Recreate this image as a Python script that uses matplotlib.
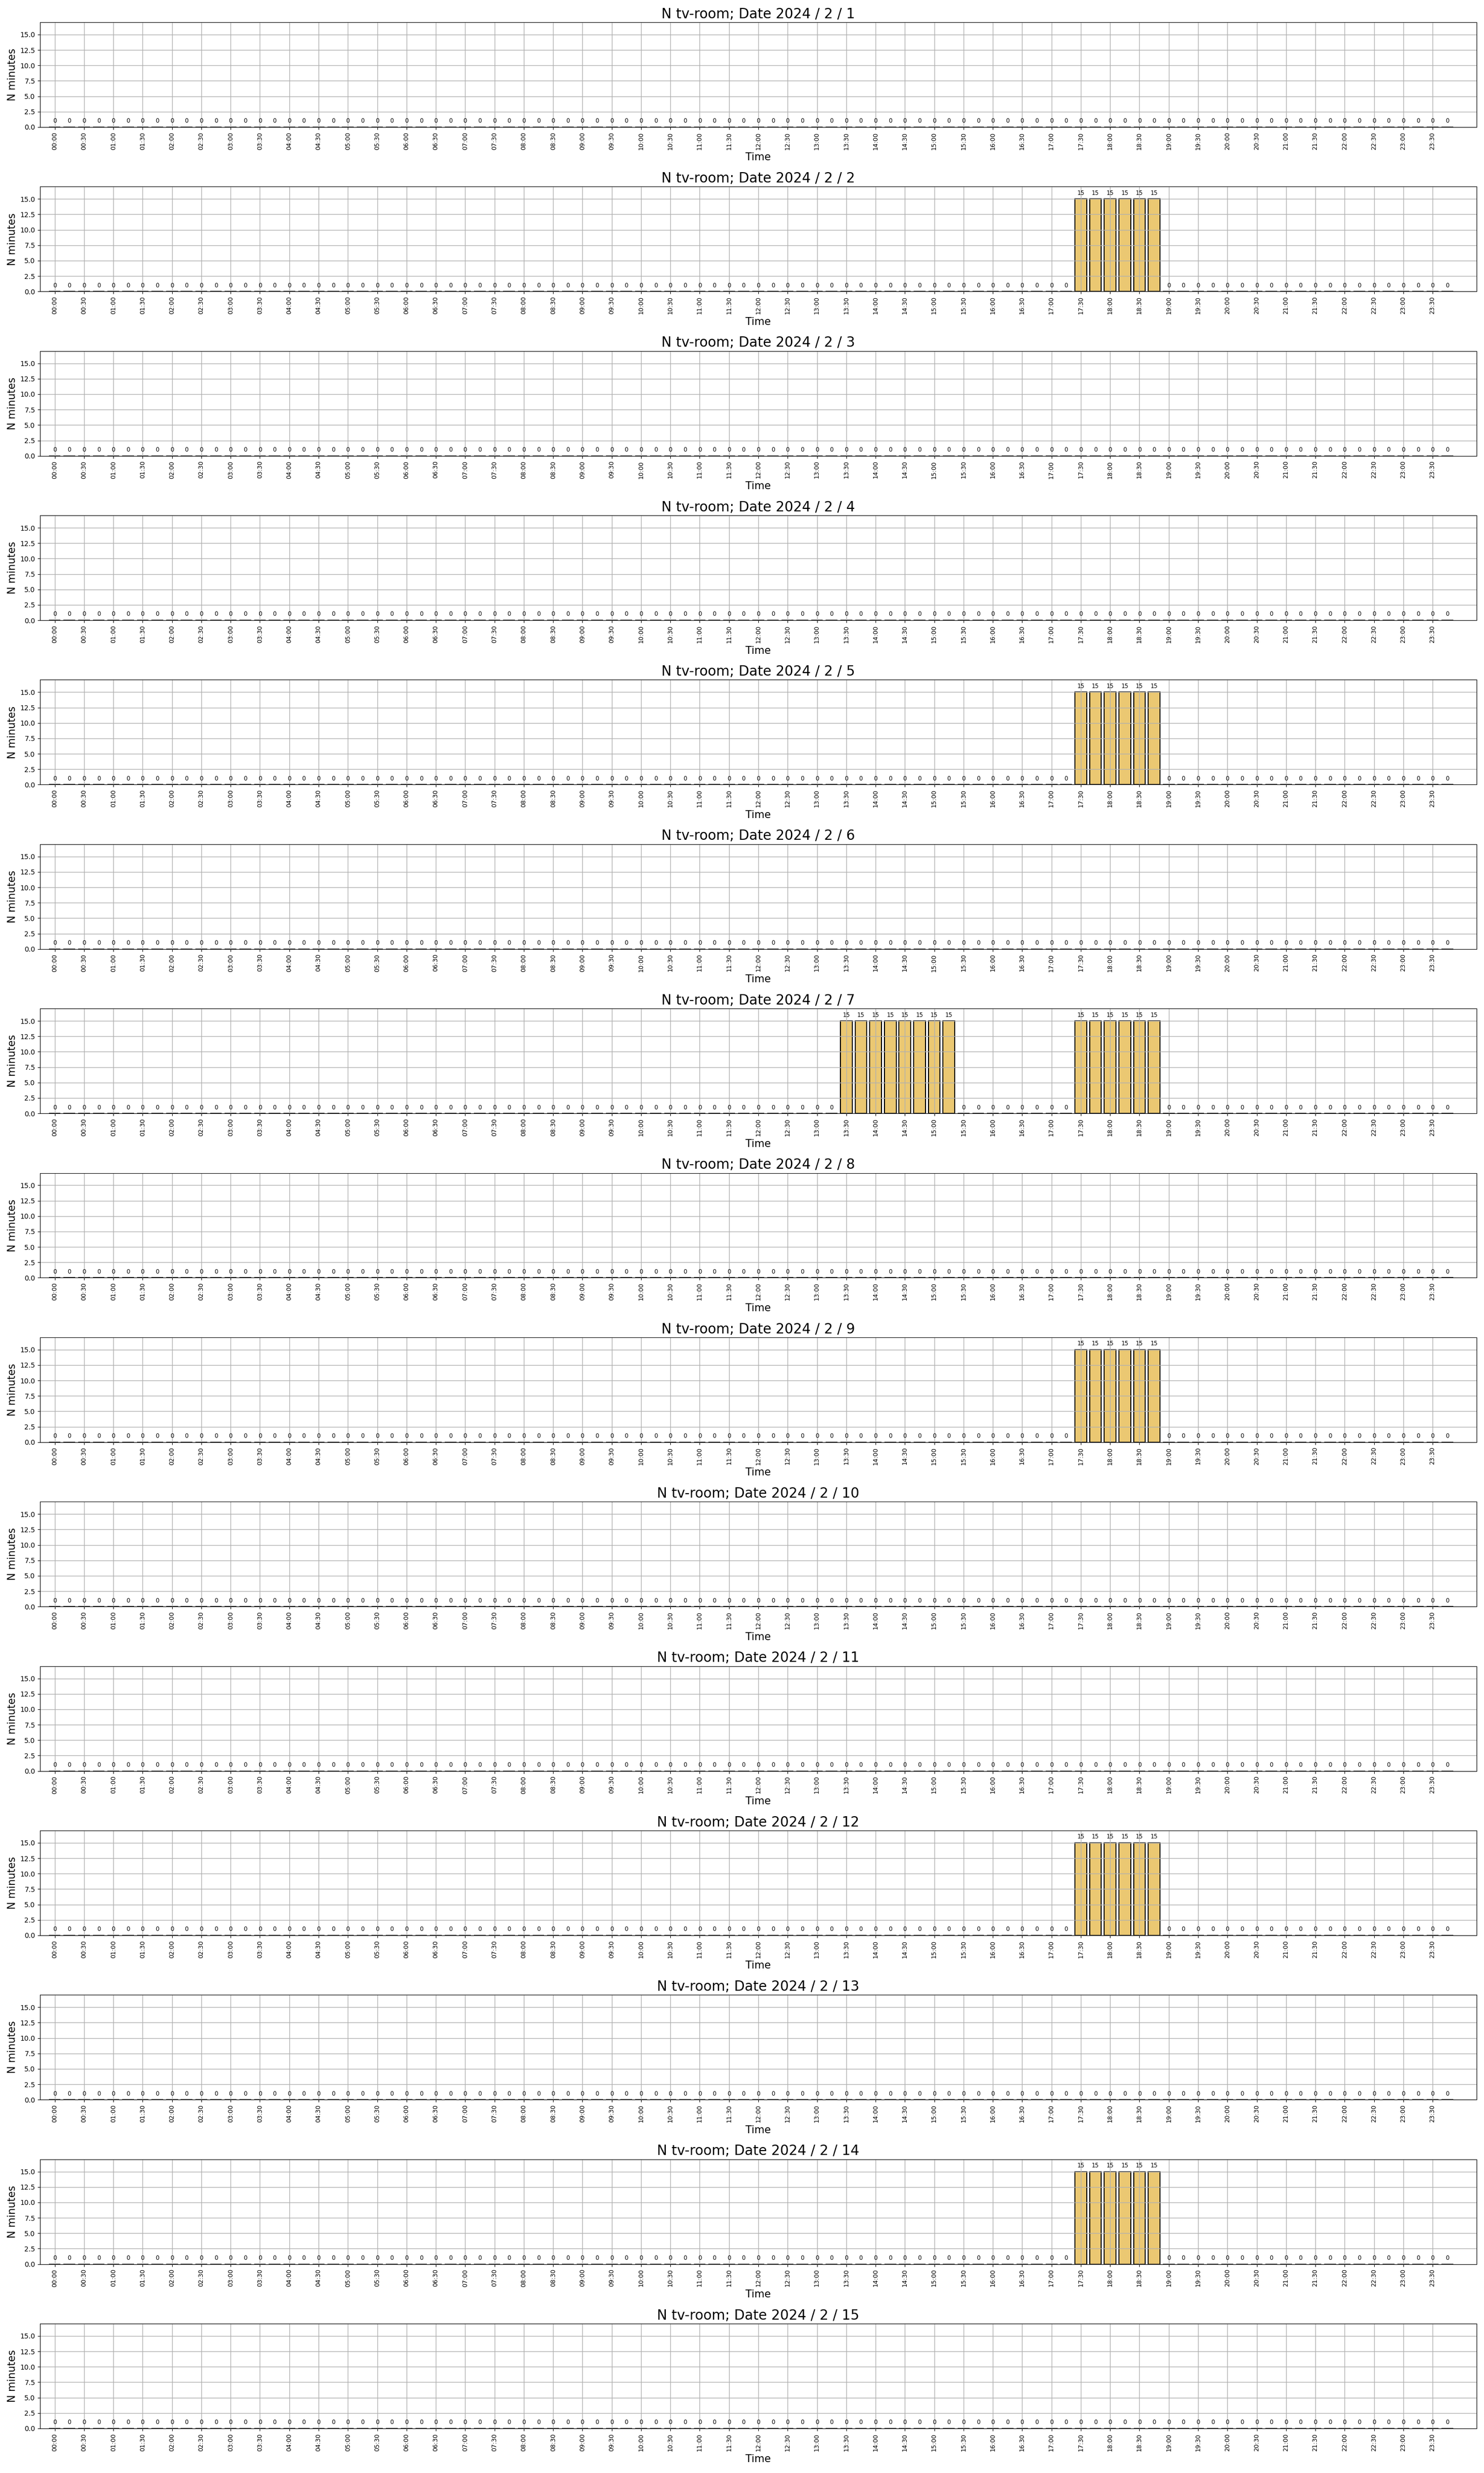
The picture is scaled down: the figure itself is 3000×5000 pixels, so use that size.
import matplotlib
matplotlib.use("Agg")
import matplotlib.pyplot as plt
import numpy as np

# 15-minute time slots of the day (96 bars); every second one is labelled
slots = [f"{h:02d}:{m:02d}" for h in range(24) for m in (0, 15, 30, 45)]
tick_labels = slots[::2]

days = list(range(1, 16))
year, month = 2024, 2

# Minutes per 15-minute slot (96 values per day,
# four rows of 24 values = 00-06h, 06-12h, 12-18h, 18-24h)
Z = [0] * 24
aft_eve = [0, 0, 0, 0, 0, 0, 15, 15, 15, 15, 15, 15, 15, 15, 0, 0, 0, 0, 0, 0, 0, 0, 15, 15]
eve_12_18 = [0, 0, 0, 0, 0, 0, 0, 0, 0, 0, 0, 0, 0, 0, 0, 0, 0, 0, 0, 0, 0, 0, 15, 15]
eve_18_24 = [15, 15, 15, 15, 0, 0, 0, 0, 0, 0, 0, 0, 0, 0, 0, 0, 0, 0, 0, 0, 0, 0, 0, 0]

day01 = Z + Z + Z + Z
day02 = Z + Z + eve_12_18 + eve_18_24
day03 = Z + Z + Z + Z
day04 = Z + Z + Z + Z
day05 = Z + Z + eve_12_18 + eve_18_24
day06 = Z + Z + Z + Z
day07 = Z + Z + aft_eve + eve_18_24
day08 = Z + Z + Z + Z
day09 = Z + Z + eve_12_18 + eve_18_24
day10 = Z + Z + Z + Z
day11 = Z + Z + Z + Z
day12 = Z + Z + eve_12_18 + eve_18_24
day13 = Z + Z + Z + Z
day14 = Z + Z + eve_12_18 + eve_18_24
day15 = Z + Z + Z + Z
minutes = [day01, day02, day03, day04, day05, day06, day07, day08,
           day09, day10, day11, day12, day13, day14, day15]

bar_color = "#EBC872"

fig, axes = plt.subplots(len(days), 1, figsize=(30, 50), dpi=100)
fig.subplots_adjust(left=0.027, right=0.995, top=0.991, bottom=0.018, hspace=0.568)

x = np.arange(len(slots))
for ax, day, vals in zip(axes, days, minutes):
    bars = ax.bar(x, vals, width=0.8, color=bar_color, edgecolor="black", linewidth=1.5)
    ax.bar_label(bars, labels=[str(v) for v in vals], padding=4, fontsize=8.5)
    ax.set_xlim(-1, len(slots) + 1)
    ax.set_ylim(0, 17)
    ax.set_xticks(x[::2])
    ax.set_xticklabels(tick_labels, rotation=90, fontsize=9)
    ax.tick_params(axis="y", labelsize=10)
    ax.grid(True, color="#b0b0b0", linewidth=1.0)
    ax.set_title(f"N tv-room; Date {year} / {month} / {day}", fontsize=20)
    ax.set_xlabel("Time", fontsize=15)
    ax.set_ylabel("N minutes", fontsize=15)

fig.savefig("out.png", dpi=100)
